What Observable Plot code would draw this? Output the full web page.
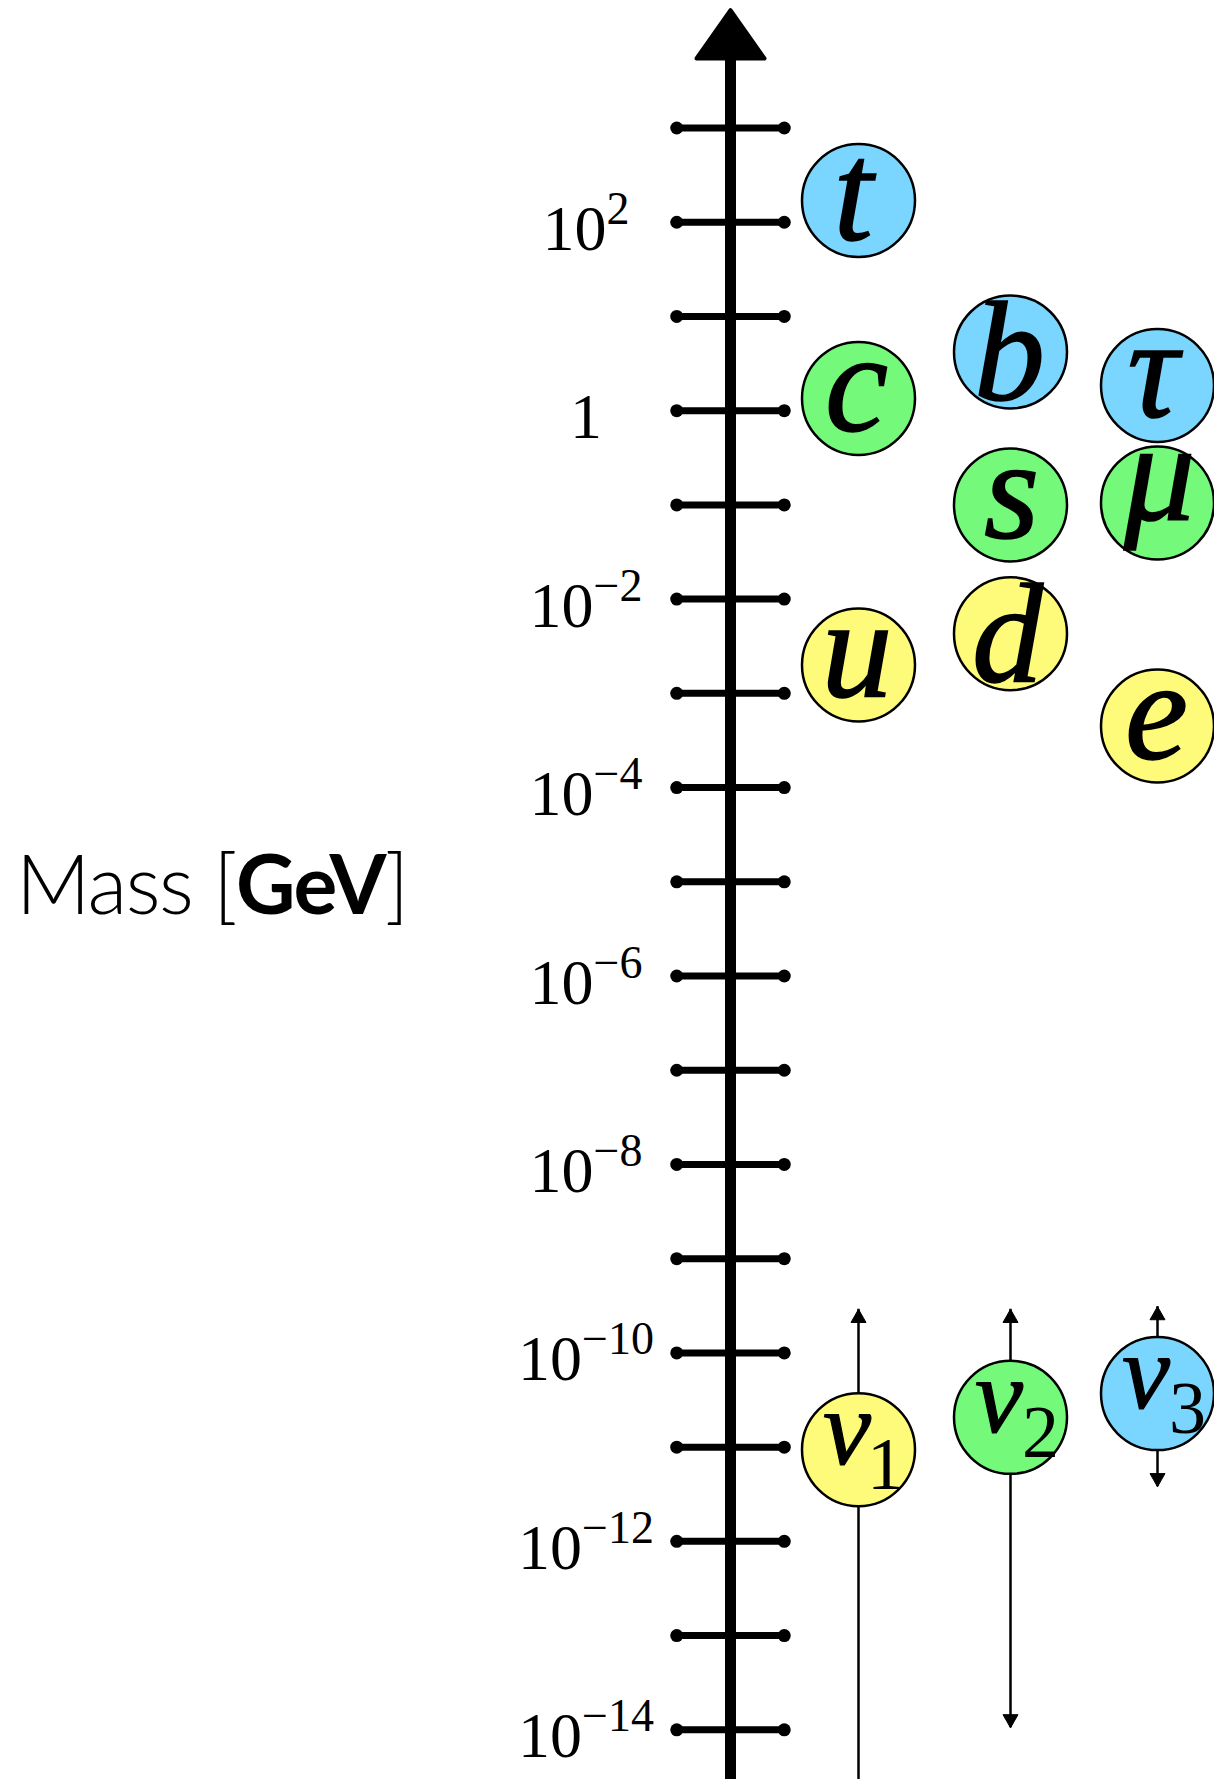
<!DOCTYPE html>
<html>
<head>
<meta charset="utf-8">
<script src="https://cdn.jsdelivr.net/npm/d3@7"></script>
<script src="https://cdn.jsdelivr.net/npm/@observablehq/plot@0.6"></script>
<style>
  html, body { margin: 0; padding: 0; background: #fff; overflow: hidden; }
</style>
</head>
<body>
<div id="chart"></div>
<script>
// Charged fermions: quarks (columns 1–2) and charged leptons (column 3), mass in GeV
const particles = ["t", "c", "u", "b", "s", "d", "τ", "μ", "e"];
const particleMass = [170, 1.35, 0.002, 4.2, 0.1, 0.0043, 1.85, 0.105, 0.00045];
const particleColumn = [1, 1, 1, 2, 2, 2, 3, 3, 3];
const particleGeneration = [3, 2, 1, 3, 2, 1, 3, 2, 1];

// Neutrino mass states with their allowed ranges (lower bound 0 = open below)
const neutrinoSymbols = ["ν", "ν", "ν"];
const neutrinoIndex = ["1", "2", "3"];
const neutrinoMass = [9.4e-12, 2.07e-11, 3.7e-11];
const neutrinoUpper = [2.9e-10, 2.9e-10, 3.1e-10];
const neutrinoLower = [0, 1.05e-14, 3.8e-12];
const neutrinoColumn = [1, 2, 3];
const neutrinoGeneration = [1, 2, 3];

// Mass axis: one tick per decade, labels every second decade
const tickExponents = [3, 2, 1, 0, -1, -2, -3, -4, -5, -6, -7, -8, -9, -10, -11, -12, -13, -14];
const labelExponents = [2, 0, -2, -4, -6, -8, -10, -12, -14];

// Generation colours: first, second, third
const generationColors = ["#FFFB7A", "#74F97A", "#7AD6FF"];

const fermions = particles.map((name, i) => ({
  name, mass: particleMass[i], column: particleColumn[i], generation: particleGeneration[i]
}));
const neutrinos = neutrinoSymbols.map((name, i) => ({
  name, index: neutrinoIndex[i], mass: neutrinoMass[i], upper: neutrinoUpper[i],
  lower: neutrinoLower[i], column: neutrinoColumn[i], generation: neutrinoGeneration[i]
}));
const ticks = tickExponents.map(e => 10 ** e);

const serif = "'Liberation Serif', 'Times New Roman', Times, serif";
const tickHalf = 0.42; // half tick length, in column units

// Ink bounds of a string, so glyphs can be centred by their visible shape
const measure = document.createElement("canvas").getContext("2d");
function inkBox(text, font) {
  measure.font = font;
  measure.textAlign = "left";
  measure.textBaseline = "alphabetic";
  const m = measure.measureText(text);
  return {
    left: -m.actualBoundingBoxLeft, right: m.actualBoundingBoxRight,
    top: -m.actualBoundingBoxAscent, bottom: m.actualBoundingBoxDescent
  };
}

// Filled arrowheads as dot symbols
const headUp = { // tip at the point
  draw(ctx, size) {
    const w = Math.sqrt(size / Math.PI), h = 1.75 * w;
    ctx.moveTo(0, 0); ctx.lineTo(w, h); ctx.lineTo(-w, h); ctx.closePath();
  }
};
const headDown = {
  draw(ctx, size) {
    const w = Math.sqrt(size / Math.PI), h = 1.75 * w;
    ctx.moveTo(0, 0); ctx.lineTo(-w, -h); ctx.lineTo(w, -h); ctx.closePath();
  }
};
const axisHead = { // base at the point
  draw(ctx, size) {
    const w = Math.sqrt(size / Math.PI), h = 1.42 * w;
    ctx.moveTo(0, -h); ctx.lineTo(w, 0); ctx.lineTo(-w, 0); ctx.closePath();
  }
};

function tickLabels(index, {x, y}) {
  const g = d3.create("svg:g")
    .attr("font-family", serif)
    .attr("fill", "black")
    .attr("text-anchor", "middle");
  const cx = x(0) - 144;
  for (const e of labelExponents) {
    const t = g.append("text")
      .attr("x", cx)
      .attr("y", y(10 ** e) + 28)
      .attr("font-size", 64);
    if (e === 0) {
      t.text("1");
    } else {
      t.append("tspan").text("10");
      t.append("tspan")
        .attr("dy", -26)
        .attr("font-size", 46)
        .text(e < 0 ? "\u2212" + (-e) : String(e));
    }
  }
  return g.node();
}

function particleLabels(index, {x, y}) {
  const size = 142;
  const font = `italic ${size}px ${serif}`;
  const g = d3.create("svg:g")
    .attr("font-family", serif)
    .attr("font-style", "italic")
    .attr("font-size", size)
    .attr("text-anchor", "start")
    .attr("fill", "black")
    .attr("stroke", "black")
    .attr("stroke-width", 1.6);
  for (const d of fermions) {
    const b = inkBox(d.name, font);
    g.append("text")
      .attr("x", x(d.column) - (b.left + b.right) / 2)
      .attr("y", y(d.mass) - (b.top + b.bottom) / 2)
      .text(d.name);
  }
  return g.node();
}

function neutrinoLabels(index, {x, y}) {
  const nuFont = `italic 108px ${serif}`;
  const subFont = `74px ${serif}`;
  const g = d3.create("svg:g")
    .attr("font-family", serif)
    .attr("text-anchor", "start")
    .attr("fill", "black");
  for (const d of neutrinos) {
    const cx = x(d.column), cy = y(d.mass);
    const nb = inkBox(d.name, nuFont);
    const sb = inkBox(d.index, subFont);
    g.append("text")
      .attr("x", cx - 34 - nb.left)
      .attr("y", cy + 15)
      .attr("font-style", "italic")
      .attr("font-size", 108)
      .attr("stroke", "black")
      .attr("stroke-width", 1.2)
      .text(d.name);
    g.append("text")
      .attr("x", cx + 15 - sb.left)
      .attr("y", cy + 40)
      .attr("font-size", 74)
      .text(d.index);
  }
  return g.node();
}

function massLabel(index, scales, values, {height}) {
  const t = d3.create("svg:text")
    .attr("x", 16)
    .attr("y", height / 2 + 24)
    .attr("text-anchor", "start")
    .attr("font-family", "Lato, 'Open Sans', sans-serif")
    .attr("font-size", 82)
    .attr("letter-spacing", -1.5)
    .attr("fill", "black");
  t.append("tspan").attr("font-weight", 300).text("Mass [");
  t.append("tspan").attr("font-weight", 700).text("GeV");
  t.append("tspan").attr("font-weight", 300).text("]");
  return t.node();
}

const plot = Plot.plot({
  width: 1214,
  height: 1779,
  marginTop: 58,
  marginRight: 0,
  marginBottom: 0,
  marginLeft: 0,
  style: {background: "white"},
  x: {type: "linear", domain: [0, 1, 2, 3], range: [730, 858, 1010, 1157], axis: null},
  y: {type: "log", domain: [1e-14, 1e3], range: [1729.3, 127.5], axis: null},
  color: {type: "ordinal", domain: [1, 2, 3], range: generationColors},
  marks: [
    // neutrino mass ranges
    Plot.ruleX(neutrinos, {
      x: "column",
      y1: d => (d.lower > 0 ? d.lower : 1e-16),
      y2: "upper",
      stroke: "black",
      strokeWidth: 2.5,
      clip: true
    }),
    Plot.dot(neutrinos, {x: "column", y: "upper", symbol: headUp, r: 7.5, fill: "black", stroke: "black", strokeWidth: 1}),
    Plot.dot(neutrinos.filter(d => d.lower > 0), {x: "column", y: "lower", symbol: headDown, r: 7.5, fill: "black", stroke: "black", strokeWidth: 1}),

    // mass axis
    Plot.ruleX([0], {stroke: "black", strokeWidth: 11}),
    Plot.dot([0], {x: d => d, frameAnchor: "top", symbol: axisHead, r: 34, fill: "black", stroke: "black", strokeWidth: 4, strokeLinejoin: "round"}),
    Plot.ruleY(ticks, {y: d => d, x1: () => -tickHalf, x2: () => tickHalf, stroke: "black", strokeWidth: 7, strokeLinecap: "round"}),
    Plot.dot(ticks.flatMap(v => [{x: -tickHalf, y: v}, {x: tickHalf, y: v}]), {x: "x", y: "y", r: 6.5, fill: "black"}),
    tickLabels,

    // particles
    Plot.dot(fermions, {x: "column", y: "mass", r: 56.5, fill: "generation", stroke: "black", strokeWidth: 2.5}),
    Plot.dot(neutrinos, {x: "column", y: "mass", r: 56.5, fill: "generation", stroke: "black", strokeWidth: 2.5}),
    particleLabels,
    neutrinoLabels,
    massLabel
  ]
});

document.getElementById("chart").appendChild(plot);
</script>
</body>
</html>
